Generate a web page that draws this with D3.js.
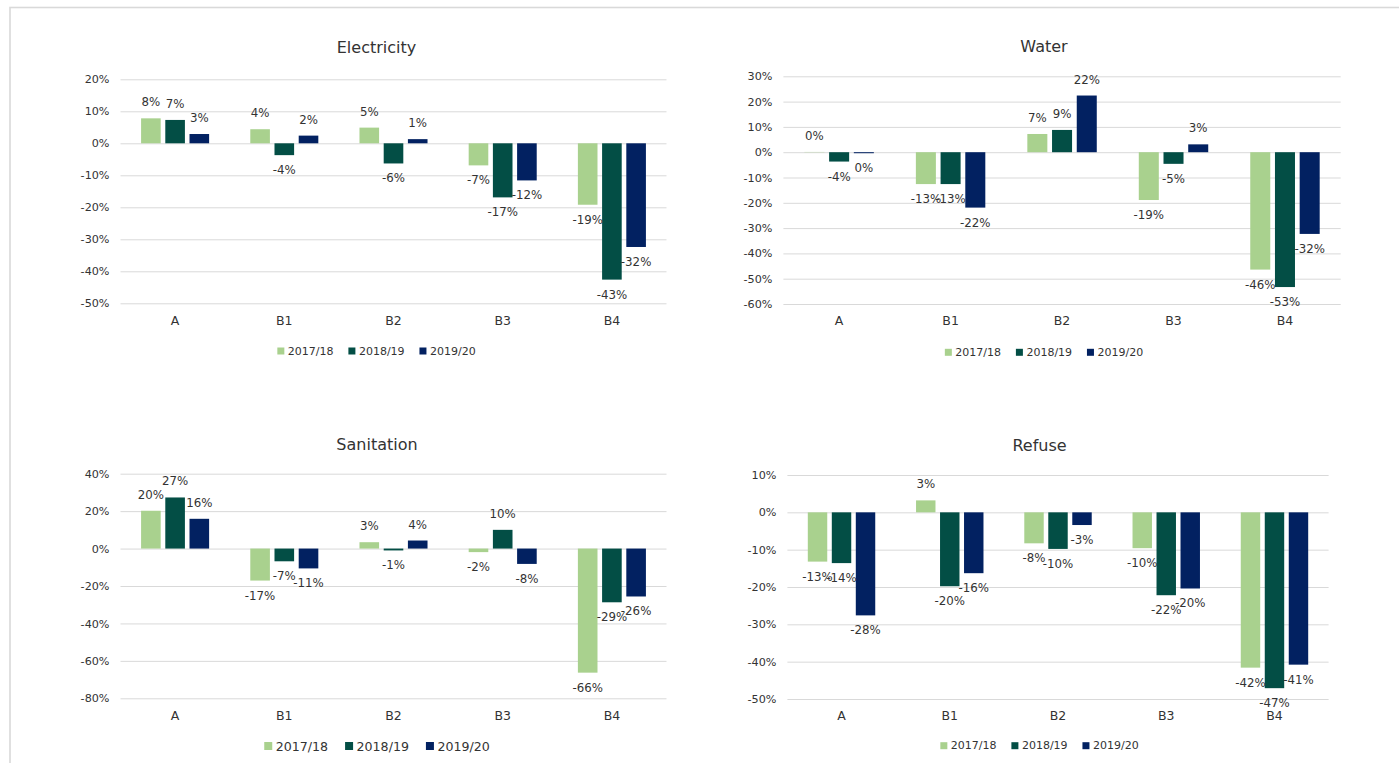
<!DOCTYPE html>
<html>
<head>
<meta charset="utf-8">
<script src="https://cdn.jsdelivr.net/npm/d3@7/dist/d3.min.js"></script>
<style>
  html, body { margin: 0; padding: 0; background: #ffffff; }
  svg { display: block; font-family: "DejaVu Sans", sans-serif; }
</style>
</head>
<body>
<svg id="chart" width="1399" height="763"></svg>
<script>
// Categories and series shared by all four panels
const categories = ["A", "B1", "B2", "B3", "B4"];
const seriesNames = ["2017/18", "2018/19", "2019/20"];

// Year-on-year change (%) — Electricity
const electricity1718 = [7.8, 4.4, 4.9, -6.9, -19.2];
const electricity1819 = [7.3, -3.7, -6.3, -16.9, -42.6];
const electricity1920 = [2.9, 2.4, 1.3, -11.6, -32.4];
const electricityTicks = [-50, -40, -30, -20, -10, 0, 10, 20];

// Water
const water1718 = [0.1, -12.6, 7.2, -18.9, -46.4];
const water1819 = [-3.7, -12.6, 8.8, -4.6, -53.3];
const water1920 = [-0.4, -21.9, 22.4, 3.1, -32.3];
const waterTicks = [-60, -50, -40, -30, -20, -10, 0, 10, 20, 30];

// Sanitation
const sanitation1718 = [20.2, -17.1, 3.4, -1.9, -66.3];
const sanitation1819 = [27.3, -6.8, -1.0, 10.0, -28.7];
const sanitation1920 = [15.9, -10.6, 4.3, -8.2, -25.6];
const sanitationTicks = [-80, -60, -40, -20, 0, 20, 40];

// Refuse
const refuse1718 = [-13.2, 3.2, -8.3, -9.6, -41.6];
const refuse1819 = [-13.6, -19.8, -9.8, -22.2, -47.1];
const refuse1920 = [-27.6, -16.3, -3.4, -20.4, -40.8];
const refuseTicks = [-50, -40, -30, -20, -10, 0, 10];

const seriesColors = ["#a9d18e", "#034e45", "#022161"];
const textColor = "#333333";
const gridColor = "#d9d9d9";

const pct = v => `${Math.round(v) || 0}%`;

// Panel layouts
const panels = [
  { title: "Electricity", series: [electricity1718, electricity1819, electricity1920], ticks: electricityTicks,
    left: 120.5, right: 666.5, top: 79.3, bottom: 303.3, titleX: 376.5, titleY: 47, legendY: 351, legendFont: 11, legendSq: 7 },
  { title: "Water", series: [water1718, water1819, water1920], ticks: waterTicks,
    left: 783.4, right: 1340.7, top: 76.3, bottom: 304, titleX: 1044, titleY: 46, legendY: 352.3, legendFont: 11, legendSq: 7 },
  { title: "Sanitation", series: [sanitation1718, sanitation1819, sanitation1920], ticks: sanitationTicks,
    left: 120.5, right: 666.5, top: 473.7, bottom: 698.3, titleX: 377, titleY: 444.3, legendY: 746, legendFont: 12.6, legendSq: 8 },
  { title: "Refuse", series: [refuse1718, refuse1819, refuse1920], ticks: refuseTicks,
    left: 787.4, right: 1328.6, top: 475, bottom: 699, titleX: 1039.5, titleY: 445.3, legendY: 745.7, legendFont: 11, legendSq: 7 }
];

const svg = d3.select("#chart");

// Outer frame
svg.append("rect")
  .attr("x", 10).attr("y", 7.5).attr("width", 1400).attr("height", 770)
  .attr("fill", "none").attr("stroke", gridColor).attr("stroke-width", 1.6);

panels.forEach(p => {
  const g = svg.append("g");
  const lo = p.ticks[0], hi = p.ticks[p.ticks.length - 1];

  const x0 = d3.scaleBand().domain(categories).range([p.left, p.right]).padding(0);
  const groupW = x0.bandwidth() * 0.623;
  const x1 = d3.scaleBand().domain(seriesNames).range([0, groupW]).paddingInner(0.19).paddingOuter(0);
  const y = d3.scaleLinear().domain([lo, hi]).range([p.bottom, p.top]);

  // Title
  g.append("text")
    .attr("x", p.titleX).attr("y", p.titleY)
    .attr("text-anchor", "middle").attr("dominant-baseline", "central")
    .attr("font-size", 16).attr("fill", textColor)
    .text(p.title);

  // Value axis with gridlines
  const yAxis = d3.axisLeft(y)
    .tickValues(p.ticks)
    .tickFormat(pct)
    .tickSize(-(p.right - p.left))
    .tickPadding(11);
  const ya = g.append("g").attr("transform", `translate(${p.left},0)`).call(yAxis);
  ya.select(".domain").remove();
  ya.selectAll(".tick line").attr("stroke", gridColor).attr("stroke-width", 1);
  ya.selectAll(".tick text").attr("fill", textColor).attr("font-size", 11.2)
    .attr("font-family", "DejaVu Sans, sans-serif");

  // Category axis along the bottom of the plot
  const xAxis = d3.axisBottom(x0).tickSize(0).tickPadding(12.5);
  const xa = g.append("g").attr("transform", `translate(0,${p.bottom})`).call(xAxis);
  xa.select(".domain").remove();
  xa.selectAll(".tick text").attr("fill", textColor).attr("font-size", 12.5)
    .attr("font-family", "DejaVu Sans, sans-serif");

  // Bars
  const rows = [];
  p.series.forEach((vals, si) => {
    vals.forEach((v, ci) => rows.push({ cat: categories[ci], s: seriesNames[si], si, v }));
  });

  const barX = d => x0(d.cat) + (x0.bandwidth() - groupW) / 2 + x1(d.s);

  g.append("g").selectAll("rect").data(rows).join("rect")
    .attr("x", barX)
    .attr("width", x1.bandwidth())
    .attr("y", d => y(Math.max(0, d.v)))
    .attr("height", d => Math.abs(y(d.v) - y(0)))
    .attr("fill", d => seriesColors[d.si]);

  // Value labels just outside the bar end
  g.append("g").selectAll("text").data(rows).join("text")
    .attr("x", d => barX(d) + x1.bandwidth() / 2)
    .attr("y", d => d.v >= 0 ? y(d.v) - 16 : y(d.v) + 15)
    .attr("text-anchor", "middle").attr("dominant-baseline", "central")
    .attr("font-size", 11.8).attr("fill", textColor)
    .text(d => pct(d.v));

  // Legend, centred under the title
  const lg = g.append("g");
  const items = lg.selectAll("g").data(seriesNames).join("g");
  items.append("rect")
    .attr("width", p.legendSq).attr("height", p.legendSq)
    .attr("y", -p.legendSq / 2)
    .attr("fill", (d, i) => seriesColors[i]);
  items.append("text")
    .attr("x", p.legendSq + 3.5)
    .attr("dominant-baseline", "central")
    .attr("font-size", p.legendFont).attr("fill", textColor)
    .text(d => d);
  let cursor = 0;
  const gap = p.legendFont * 1.35;
  items.each(function () {
    const w = p.legendSq + 3.5 + d3.select(this).select("text").node().getComputedTextLength();
    d3.select(this).attr("transform", `translate(${cursor},0)`);
    cursor += w + gap;
  });
  const total = cursor - gap;
  lg.attr("transform", `translate(${p.titleX - total / 2},${p.legendY})`);
});
</script>
</body>
</html>
